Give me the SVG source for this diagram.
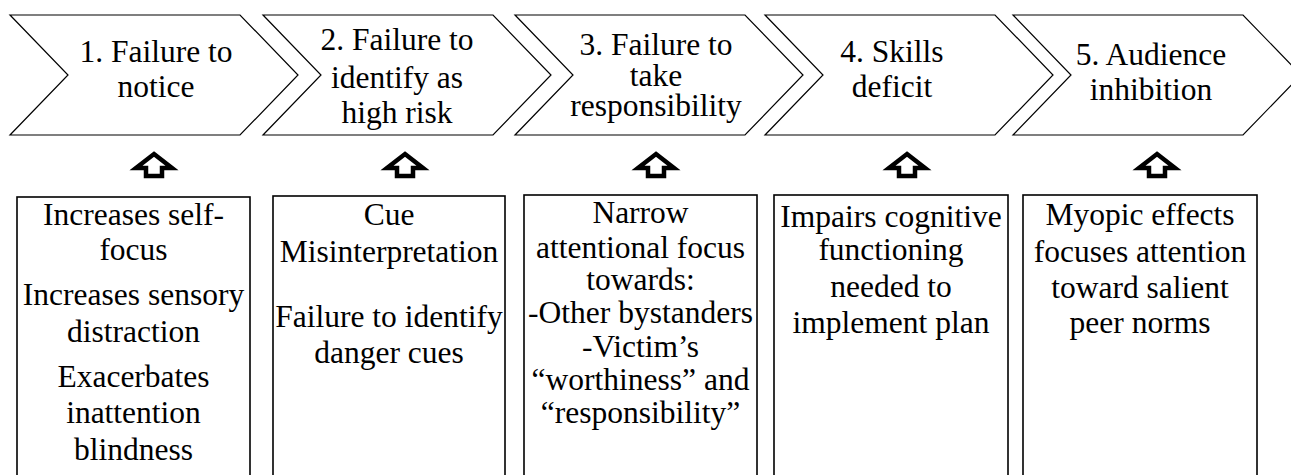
<svg xmlns="http://www.w3.org/2000/svg" width="1291" height="475" viewBox="0 0 1291 475">
<style>
.chev{fill:#fff;stroke:#000;stroke-width:1.2}
.box{fill:#fff;stroke:#000;stroke-width:1.6}
.arr{fill:#fff;stroke:#000;stroke-width:4.5;stroke-linejoin:miter}
.t{font-family:'Liberation Serif','Times New Roman',serif;font-size:31.5px;fill:#000;text-anchor:middle}
</style>
<rect width="1291" height="475" fill="#fff"/>
<defs>
<polygon id="chevShape" points="0,15 230,15 288,75 230,135 0,135 58,75"/>
<polygon id="arrShape" points="0,-20 18,-6 8,-6 8,2 -8,2 -8,-6 -18,-6"/>
</defs>
<g id="step1"><use href="#chevShape" x="10" class="chev"/><text class="t" x="156" y="62">1. Failure to</text><text class="t" x="156" y="97">notice</text></g>
<g id="step2"><use href="#chevShape" x="263" class="chev"/><text class="t" x="397" y="50">2. Failure to</text><text class="t" x="397" y="88">identify as</text><text class="t" x="397" y="123">high risk</text></g>
<g id="step3"><use href="#chevShape" x="515" class="chev"/><text class="t" x="656" y="55">3. Failure to</text><text class="t" x="656" y="86">take</text><text class="t" x="656" y="116">responsibility</text></g>
<g id="step4"><use href="#chevShape" x="765" class="chev"/><text class="t" x="892" y="62">4. Skills</text><text class="t" x="892" y="97">deficit</text></g>
<g id="step5"><use href="#chevShape" x="1013" class="chev"/><text class="t" x="1151" y="65">5. Audience</text><text class="t" x="1151" y="100">inhibition</text></g>
<g id="connectors">
<use href="#arrShape" x="154" y="174" class="arr"/>
<use href="#arrShape" x="405" y="174" class="arr"/>
<use href="#arrShape" x="656" y="174" class="arr"/>
<use href="#arrShape" x="907" y="174" class="arr"/>
<use href="#arrShape" x="1157" y="174" class="arr"/>
</g>
<g id="effect1"><rect x="17" y="197" width="233" height="290" class="box"/>
<text class="t" x="133.5" y="225">Increases self-</text><text class="t" x="133.5" y="260">focus</text>
<text class="t" x="133.5" y="305">Increases sensory</text><text class="t" x="133.5" y="342">distraction</text>
<text class="t" x="133.5" y="387">Exacerbates</text><text class="t" x="133.5" y="423">inattention</text><text class="t" x="133.5" y="460">blindness</text></g>
<g id="effect2"><rect x="273" y="196" width="232" height="290" class="box"/>
<text class="t" x="389" y="225">Cue</text><text class="t" x="389" y="262">Misinterpretation</text>
<text class="t" x="389" y="327">Failure to identify</text><text class="t" x="389" y="363">danger cues</text></g>
<g id="effect3"><rect x="524" y="195" width="233" height="290" class="box"/>
<text class="t" x="640.5" y="223">Narrow</text><text class="t" x="640.5" y="258">attentional focus</text><text class="t" x="640.5" y="290">towards:</text>
<text class="t" x="640.5" y="323">-Other bystanders</text><text class="t" x="640.5" y="357">-Victim’s</text>
<text class="t" x="640.5" y="390">“worthiness” and</text><text class="t" x="640.5" y="423">“responsibility”</text></g>
<g id="effect4"><rect x="774" y="195" width="234" height="290" class="box"/>
<text class="t" x="891" y="227">Impairs cognitive</text><text class="t" x="891" y="260">functioning</text><text class="t" x="891" y="297">needed to</text><text class="t" x="891" y="333">implement plan</text></g>
<g id="effect5"><rect x="1023" y="195" width="234" height="290" class="box"/>
<text class="t" x="1140" y="225">Myopic effects</text><text class="t" x="1140" y="262">focuses attention</text><text class="t" x="1140" y="298">toward salient</text><text class="t" x="1140" y="333">peer norms</text></g>
</svg>
